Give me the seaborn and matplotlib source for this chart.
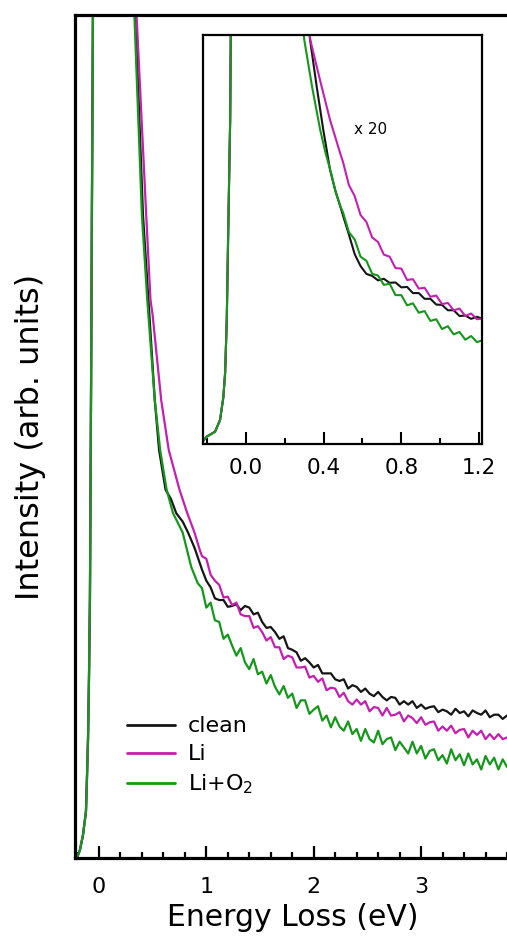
import numpy as np
import pandas as pd
import matplotlib
matplotlib.use("Agg")
import matplotlib.pyplot as plt
import seaborn as sns
from matplotlib.ticker import MultipleLocator, FormatStrFormatter

sns.set_style("ticks")
plt.rcParams['font.family'] = ['DejaVu Sans']

# ---------------- data (main panel) ----------------
edge_x = [-0.223, -0.205, -0.177, -0.149, -0.121, -0.112, -0.102, -0.093, -0.084, -0.074, -0.065, -0.056, -0.04, 0.0, 0.15]
edge_y = [0.0, 0.0, 0.95, 2.7, 5.5, 9.3, 14.0, 21.1, 30.6, 54.3, 78.1, 100.0, 200.0, 1000.0, 400.0]

clean_fall_x = [0.30, 0.34, 0.41, 0.47, 0.52, 0.56, 0.62, 0.67, 0.72, 0.78, 0.83, 0.89]
clean_fall_y = [130.0, 100.0, 76.3, 64.4, 54.3, 48.4, 43.7, 42.6, 40.9, 39.9, 38.6, 36.8]
li_fall_x = [0.31, 0.35, 0.44, 0.48, 0.50, 0.58, 0.65, 0.75, 0.82, 0.89, 0.94]
li_fall_y = [130.0, 100.0, 76.3, 66.2, 64.4, 54.3, 48.4, 43.7, 41.0, 38.6, 36.5]
lio_fall_x = [0.29, 0.33, 0.40, 0.45, 0.52, 0.57, 0.63, 0.69, 0.78, 0.86, 0.92]
lio_fall_y = [130.0, 100.0, 76.3, 66.2, 54.3, 48.4, 43.7, 40.9, 38.6, 34.5, 32.6]

tail_x = [0.96, 1.00, 1.04, 1.08, 1.12, 1.16, 1.20, 1.24, 1.28, 1.32, 1.36, 1.40,
          1.44, 1.48, 1.52, 1.56, 1.60, 1.64, 1.68, 1.72, 1.76, 1.80, 1.84, 1.88,
          1.92, 1.96, 2.00, 2.04, 2.08, 2.12, 2.16, 2.20, 2.24, 2.28, 2.32, 2.36,
          2.40, 2.44, 2.48, 2.52, 2.56, 2.60, 2.64, 2.68, 2.72, 2.76, 2.80, 2.84,
          2.88, 2.92, 2.96, 3.00, 3.04, 3.08, 3.12, 3.16, 3.20, 3.24, 3.28, 3.32,
          3.36, 3.40, 3.44, 3.48, 3.52, 3.56, 3.60, 3.64, 3.68, 3.72, 3.76, 3.80]
clean_tail = [34.2, 32.9, 32.1, 30.8, 30.6, 30.6, 29.8, 29.9, 30.1, 29.4, 29.9, 29.7,
              28.9, 29.1, 28.0, 27.3, 27.4, 26.8, 26.0, 26.3, 24.9, 24.7, 24.4, 23.4,
              23.7, 23.2, 22.6, 22.9, 21.9, 21.9, 21.9, 21.2, 21.0, 21.2, 20.1, 20.5,
              20.3, 19.7, 20.1, 19.5, 19.2, 19.7, 19.1, 18.7, 19.1, 19.0, 18.2, 18.6,
              18.2, 18.6, 17.8, 18.2, 17.7, 17.9, 18.0, 17.3, 17.6, 17.4, 17.0, 17.7,
              17.2, 17.4, 16.8, 17.5, 17.2, 17.0, 17.5, 16.7, 17.0, 17.0, 16.5, 16.9]
li_tail = [35.8, 35.5, 33.6, 32.9, 32.4, 30.9, 31.0, 30.0, 30.3, 28.9, 28.7, 28.7,
           27.3, 27.5, 26.8, 25.8, 26.2, 25.0, 25.0, 23.6, 24.0, 23.8, 22.6, 22.6,
           22.7, 21.4, 21.6, 20.9, 21.3, 19.9, 20.2, 20.1, 19.1, 19.6, 18.6, 18.2,
           18.8, 18.2, 18.6, 17.4, 17.9, 17.8, 16.9, 17.8, 16.9, 17.0, 17.3, 16.2,
           16.9, 16.6, 16.0, 16.7, 15.8, 16.1, 16.2, 15.1, 15.6, 15.1, 15.7, 14.8,
           15.2, 15.3, 14.3, 15.1, 14.6, 15.1, 14.1, 14.7, 14.1, 14.7, 14.1, 14.3]
lio_tail = [32.0, 29.7, 30.3, 28.2, 28.0, 26.0, 26.5, 25.2, 24.0, 24.9, 23.2, 22.4,
            23.6, 21.8, 22.1, 20.7, 21.7, 20.3, 19.4, 20.4, 19.0, 19.5, 17.8, 18.7,
            18.7, 17.1, 17.6, 18.0, 16.3, 16.9, 15.5, 16.7, 15.6, 15.1, 16.2, 14.7,
            15.3, 13.9, 15.3, 14.1, 13.7, 15.1, 13.5, 14.1, 14.3, 12.8, 13.8, 13.1,
            12.4, 13.8, 12.4, 13.3, 11.8, 12.7, 12.9, 11.6, 12.2, 11.2, 12.9, 11.6,
            12.3, 11.0, 12.4, 11.1, 11.7, 10.5, 12.1, 11.1, 11.9, 10.5, 11.7, 10.8]

# ---------------- data (inset, x 20) ----------------
in_edge_x = [-0.222, -0.203, -0.160, -0.134, -0.117, -0.108, -0.0995, -0.091, -0.082, -0.079, -0.07, 0.0, 0.15]
in_edge_y = [0.7, 1.8, 3.0, 5.9, 11.5, 17.4, 30.3, 54.8, 79.2, 98.8, 150.0, 800.0, 400.0]

in_clean_fall_x = [0.28, 0.330, 0.364, 0.398, 0.433, 0.46, 0.485]
in_clean_fall_y = [120.0, 98.8, 87.4, 76.8, 67.0, 62.0, 58.2]
in_li_fall_x = [0.28, 0.331, 0.381, 0.433, 0.46, 0.485]
in_li_fall_y = [120.0, 98.8, 89.0, 79.2, 75.0, 71.1]
in_lio_fall_x = [0.26, 0.300, 0.340, 0.382, 0.410, 0.438, 0.462, 0.485]
in_lio_fall_y = [120.0, 98.8, 87.4, 76.8, 71.1, 66.3, 61.5, 58.2]

in_tail_x = [0.50, 0.53, 0.56, 0.59, 0.62, 0.65, 0.68, 0.71, 0.74, 0.77, 0.80, 0.83,
             0.86, 0.89, 0.92, 0.95, 0.98, 1.01, 1.04, 1.07, 1.10, 1.13, 1.16, 1.19, 1.22]
in_clean_tail = [55.8, 51.2, 46.4, 43.5, 41.6, 41.1, 40.0, 40.4, 39.4, 39.5, 38.3, 38.4,
                 36.9, 36.9, 35.5, 35.5, 34.1, 34.0, 32.7, 32.7, 31.3, 31.4, 30.6, 31.1, 30.6]
in_li_tail = [68.9, 63.3, 60.6, 56.0, 54.3, 50.5, 49.4, 46.3, 45.8, 43.0, 42.9, 40.1,
              40.3, 38.0, 38.2, 36.0, 36.3, 34.2, 34.5, 32.7, 33.1, 31.3, 31.9, 30.5, 30.7]
in_lio_tail = [56.6, 51.8, 50.0, 45.8, 44.8, 41.6, 41.2, 38.9, 39.2, 36.4, 36.4, 33.9,
               34.4, 32.1, 32.5, 30.1, 30.5, 28.1, 28.8, 26.8, 27.4, 25.5, 26.4, 24.9, 25.4]

labels = ["clean", "Li", "Li+O$_2$"]
colors = ["#151515", "#c41fae", "#14971a"]

# ---------------- figure ----------------
fig = plt.figure(figsize=(5.07, 9.44), dpi=100)
W, H = 507.0, 944.0
ax = fig.add_axes([75 / W, (H - 858) / H, (507 - 75) / W, (858 - 15) / H])

main_series = [
    (edge_x + clean_fall_x + tail_x, edge_y + clean_fall_y + clean_tail),
    (edge_x + li_fall_x + tail_x, edge_y + li_fall_y + li_tail),
    (edge_x + lio_fall_x + tail_x, edge_y + lio_fall_y + lio_tail),
]
for (xs, ys), lab, col in zip(main_series, labels, colors):
    df = pd.DataFrame({"x": xs, "y": ys})
    sns.lineplot(data=df, x="x", y="y", ax=ax, color=col, lw=1.6,
                 label=lab, estimator=None, sort=False)

ax.set_xlim(-0.223, 3.80)
ax.set_ylim(0, 100)
ax.set_yticks([])
ax.xaxis.set_major_locator(MultipleLocator(1))
ax.xaxis.set_minor_locator(MultipleLocator(0.2))
ax.tick_params(axis="x", which="major", direction="in", length=9, width=1.6,
               labelsize=16, pad=14, top=False, color="black", labelcolor="black")
ax.tick_params(axis="x", which="minor", direction="in", length=4.5, width=1.6,
               top=False, color="black")
for s in ["left", "bottom", "top"]:
    ax.spines[s].set_linewidth(2.3)
    ax.spines[s].set_color("black")
ax.spines["right"].set_visible(False)
ax.set_xlabel("Energy Loss (eV)", fontsize=21.5, color="black")
ax.set_ylabel("Intensity (arb. units)", fontsize=23, color="black")
ax.xaxis.set_label_coords(0.505, -0.071)
ax.xaxis.label.set_va("center")
ax.yaxis.set_label_coords(-0.104, 0.5)
ax.yaxis.label.set_va("center")

leg = ax.legend(loc="upper left", bbox_to_anchor=(0.12, 0.168), frameon=False,
                fontsize=16, handlelength=2.15, handletextpad=0.6, labelspacing=0.36,
                borderpad=0, borderaxespad=0)
for t in leg.get_texts():
    t.set_color("black")
for h in leg.get_lines():
    h.set_linewidth(2.0)

# ---------------- inset ----------------
axi = fig.add_axes([203 / W, (H - 444) / H, (482 - 203) / W, (444 - 35) / H])
in_series = [
    (in_edge_x + in_clean_fall_x + in_tail_x, in_edge_y + in_clean_fall_y + in_clean_tail),
    (in_edge_x + in_li_fall_x + in_tail_x, in_edge_y + in_li_fall_y + in_li_tail),
    (in_edge_x + in_lio_fall_x + in_tail_x, in_edge_y + in_lio_fall_y + in_lio_tail),
]
for (xs, ys), col in zip(in_series, colors):
    df = pd.DataFrame({"x": xs, "y": ys})
    sns.lineplot(data=df, x="x", y="y", ax=axi, color=col, lw=1.5,
                 estimator=None, sort=False, legend=False)
axi.set_xlim(-0.222, 1.216)
axi.set_ylim(0, 100)
axi.set_yticks([])
axi.set_xlabel("")
axi.set_ylabel("")
axi.xaxis.set_major_locator(MultipleLocator(0.4))
axi.xaxis.set_minor_locator(MultipleLocator(0.2))
axi.xaxis.set_major_formatter(FormatStrFormatter("%.1f"))
axi.tick_params(axis="x", which="major", direction="in", length=9, width=1.5,
                labelsize=15.5, pad=10, color="black", labelcolor="black")
axi.tick_params(axis="x", which="minor", direction="in", length=4.5, width=1.5,
                color="black")
for s in axi.spines.values():
    s.set_visible(True)
    s.set_linewidth(1.6)
    s.set_color("black")
axi.text(0.599, 0.768, "x 20", transform=axi.transAxes, fontsize=11,
         ha="center", va="center", color="black")

fig.savefig("out.png", dpi=100)
